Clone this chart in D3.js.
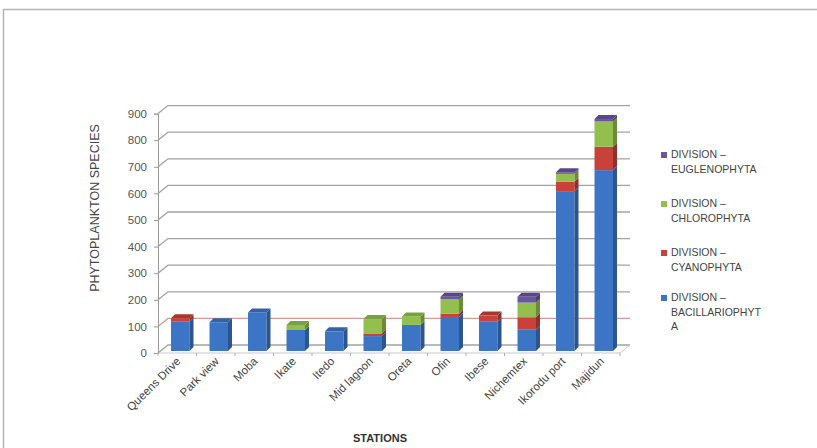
<!DOCTYPE html>
<html>
<head>
<meta charset="utf-8">
<script src="https://cdn.jsdelivr.net/npm/d3@7"></script>
<style>
  body { margin: 0; background: #fff; }
  svg { display: block; font-family: "Liberation Sans Narrow", "Liberation Sans", Arial, sans-serif; }
</style>
</head>
<body>
<svg id="chart" width="817" height="448"></svg>
<script>
const stations = ["Queens Drive", "Park view", "Moba", "Ikate", "Itedo", "Mid lagoon",
  "Oreta", "Ofin", "Ibese", "Nichemtex", "Ikorodu port", "Majidun"];
const bacillariophyta = [110, 108, 145, 79, 74, 56, 98, 128, 110, 80, 601, 680];
const cyanophyta = [13, 0, 0, 0, 0, 10, 0, 12, 23, 47, 35, 88];
const chlorophyta = [0, 0, 0, 19, 0, 54, 32, 55, 0, 55, 30, 95];
const euglenophyta = [0, 0, 0, 0, 0, 0, 0, 9, 0, 22, 6, 9];
const yTicks = [0, 100, 200, 300, 400, 500, 600, 700, 800, 900];

const seriesColors = ["#3d75c6", "#c8413a", "#93bf4e", "#6a56a0"];

const svg = d3.select("#chart");

// outer chart frame (runs off the picture at right and bottom)
svg.append("rect")
  .attr("x", 3.5).attr("y", 9.5).attr("width", 900).attr("height", 500)
  .attr("fill", "none").attr("stroke", "#b5b5b5").attr("stroke-width", 1.5);

const left = 158, right = 620;
const wallDx = 10, wallDy = -8;
const y = d3.scaleLinear().domain([0, 900]).range([353, 113.6]);
const x = d3.scaleBand().domain(stations).range([left, right]).paddingInner(0.52).paddingOuter(0.26);

// gridlines on back wall + left wall
const grid = svg.append("g");
yTicks.forEach((t) => {
  grid.append("path")
    .attr("d", `M${left},${y(t)} L${left + wallDx},${y(t) + wallDy} L${right + wallDx},${y(t) + wallDy}`)
    .attr("fill", "none")
    .attr("stroke", t === 100 ? "#d69a94" : "#a3a3a3")
    .attr("stroke-width", 1.3);
});

// floor front edge and right edge
svg.append("path")
  .attr("d", `M${left},${y(0)} L${right},${y(0)} L${right + wallDx},${y(0) + wallDy}`)
  .attr("fill", "none").attr("stroke", "#c9c9c9").attr("stroke-width", 1);

// y axis
const yAxis = d3.axisLeft(y).tickValues(yTicks).tickSize(4).tickPadding(7);
const yg = svg.append("g").attr("transform", `translate(${left},0)`).call(yAxis);
yg.select(".domain").attr("stroke", "#9a9a9a");
yg.selectAll(".tick line").attr("stroke", "#9a9a9a");
yg.selectAll("text").attr("fill", "#555")
  .style("font-family", "'Liberation Sans', Arial, sans-serif").style("font-size", "11.5px");

// small ticks between categories on the floor edge
stations.forEach((s) => {
  const bx = x(s) - x.step() * x.paddingInner() / 2;
  svg.append("line")
    .attr("x1", bx).attr("x2", bx).attr("y1", y(0)).attr("y2", y(0) + 3)
    .attr("stroke", "#b0b0b0");
});
svg.append("line").attr("x1", right).attr("x2", right).attr("y1", y(0)).attr("y2", y(0) + 3).attr("stroke", "#b0b0b0");

// stacked 3D-looking bars
const table = stations.map((s, i) => ({
  station: s,
  b: bacillariophyta[i], c: cyanophyta[i], g: chlorophyta[i], e: euglenophyta[i],
}));
const stack = d3.stack().keys(["b", "c", "g", "e"])(table);
const barDx = 3, barDy = -2, depthX = 4, depthY = -4;
const bars = svg.append("g");
stack.forEach((layer, li) => {
  const col = d3.color(seriesColors[li]);
  layer.forEach((d, i) => {
    if (d[1] - d[0] <= 0) return;
    const x0 = x(stations[i]) + barDx;
    const w = x.bandwidth();
    const yTop = y(d[1]) + barDy;
    const yBot = y(d[0]) + barDy;
    bars.append("rect")
      .attr("x", x0).attr("y", yTop).attr("width", w).attr("height", yBot - yTop)
      .attr("fill", col.formatHex());
    bars.append("path")
      .attr("d", `M${x0 + w},${yTop} L${x0 + w + depthX},${yTop + depthY} L${x0 + w + depthX},${yBot + depthY} L${x0 + w},${yBot}Z`)
      .attr("fill", col.darker(0.9).formatHex());
  });
});
// top faces
table.forEach((d) => {
  const total = d.b + d.c + d.g + d.e;
  const li = d.e > 0 ? 3 : d.g > 0 ? 2 : d.c > 0 ? 1 : 0;
  const col = d3.color(seriesColors[li]);
  const x0 = x(d.station) + barDx;
  const w = x.bandwidth();
  const yTop = y(total) + barDy;
  bars.append("path")
    .attr("d", `M${x0},${yTop} L${x0 + depthX},${yTop + depthY} L${x0 + w + depthX},${yTop + depthY} L${x0 + w},${yTop}Z`)
    .attr("fill", col.darker(0.5).formatHex());
});

// category labels
stations.forEach((s) => {
  const cx = x(s) + x.bandwidth() / 2 + 4;
  svg.append("text")
    .attr("transform", `translate(${cx},${y(0) + 9}) rotate(-45)`)
    .attr("text-anchor", "end")
    .attr("fill", "#444")
    .style("font-size", "11.5px")
    .text(s);
});

// axis titles
svg.append("text")
  .attr("transform", "translate(99,208) rotate(-90)")
  .attr("text-anchor", "middle")
  .attr("fill", "#444")
  .style("font-size", "12.5px")
  .text("PHYTOPLANKTON SPECIES");
svg.append("text")
  .attr("x", 380).attr("y", 442)
  .attr("text-anchor", "middle")
  .attr("fill", "#333")
  .style("font-size", "11px").style("font-weight", "bold")
  .style("font-family", "'Liberation Sans', Arial, sans-serif")
  .text("STATIONS");

// legend, reversed order like the reference
const legendLines = [
  ["DIVISION –", "EUGLENOPHYTA"],
  ["DIVISION –", "CHLOROPHYTA"],
  ["DIVISION –", "CYANOPHYTA"],
  ["DIVISION –", "BACILLARIOPHYT", "A"],
];
const legendColors = [seriesColors[3], seriesColors[2], seriesColors[1], seriesColors[0]];
const legendY = [158, 207, 256, 301];
const lg = svg.append("g");
legendLines.forEach((lines, i) => {
  lg.append("rect")
    .attr("x", 661).attr("y", legendY[i] - 6).attr("width", 6).attr("height", 6)
    .attr("fill", legendColors[i]);
  lines.forEach((t, j) => {
    lg.append("text")
      .attr("x", 671).attr("y", legendY[i] + j * 14.5)
      .attr("fill", "#444")
      .style("font-family", "'Liberation Sans', Arial, sans-serif")
      .style("font-size", "10.5px")
      .text(t);
  });
});
</script>
</body>
</html>
